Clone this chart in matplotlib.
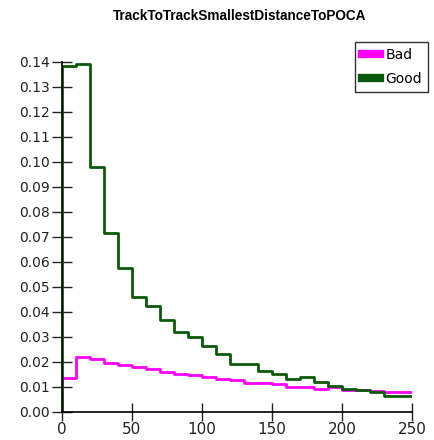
import numpy as np
import matplotlib.pyplot as plt
from matplotlib.lines import Line2D

plt.rcParams['font.family'] = ['DejaVu Sans']

# bin edges: 25 bins of width 10 from 0 to 250
edges = np.arange(0, 260, 10)

bad = [0.0136, 0.0218, 0.0211, 0.0196, 0.0186, 0.0178, 0.0170, 0.0160, 0.0151,
       0.0146, 0.0140, 0.0130, 0.0126, 0.0114, 0.0113, 0.0110, 0.0100, 0.0098,
       0.0092, 0.0097, 0.0087, 0.0085, 0.0081, 0.0080, 0.0080]
good = [0.1383, 0.1390, 0.0980, 0.0714, 0.0574, 0.0458, 0.0423, 0.0365, 0.0320,
        0.0298, 0.0262, 0.0229, 0.0191, 0.0191, 0.0164, 0.0151, 0.0130, 0.0138,
        0.0118, 0.0103, 0.0090, 0.0087, 0.0079, 0.0063, 0.0063]

yticks = np.arange(0, 0.145, 0.01)
xticks = [0, 50, 100, 150, 200, 250]

bad_color = '#ff00ff'
good_color = '#0b5a0b'


def hist_line(vals):
    # step outline starting from zero at the first edge
    x = np.concatenate([[edges[0]], edges])
    y = np.concatenate([[0], vals, [vals[-1]]])
    return x, y


fig = plt.figure(figsize=(4.35, 4.4), dpi=100)
ax = fig.add_axes([0.1425, 0.0643, 0.8045, 0.7955])

x, y = hist_line(bad)
ax.plot(x, y, drawstyle='steps-post', color=bad_color, lw=2)
x, y = hist_line(good)
ax.plot(x, y, drawstyle='steps-post', color=good_color, lw=2)

ax.set_xlim(0, 250)
ax.set_ylim(0, 0.14)
ax.set_xticks(xticks)
ax.set_yticks(yticks)
ax.set_yticklabels(['%.2f' % t for t in yticks])
ax.tick_params(axis='y', direction='inout', length=15, width=1, labelsize=10,
               pad=1, colors='#222222')
ax.tick_params(axis='x', direction='inout', length=13, width=1, labelsize=11,
               pad=1, colors='#222222')
ax.spines['top'].set_visible(False)
ax.spines['right'].set_visible(False)
for s in ['left', 'bottom']:
    ax.spines[s].set_linewidth(1.2)

fig.suptitle('TrackToTrackSmallestDistanceToPOCA', x=0.552, y=0.98,
             fontsize=9.8, fontweight='bold', family='Liberation Sans')

handles = [Line2D([], [], color=bad_color, lw=6),
           Line2D([], [], color=good_color, lw=6)]
leg = fig.legend(handles, ['Bad', 'Good'], loc='upper right',
                 bbox_to_anchor=(0.984, 0.9045), fontsize=10, frameon=True,
                 fancybox=False, handlelength=1.35, handletextpad=0.35,
                 borderpad=0.45, labelspacing=0.7, borderaxespad=0)
leg.get_frame().set_edgecolor('black')
leg.get_frame().set_linewidth(1)

fig.savefig('out.png', dpi=100)
